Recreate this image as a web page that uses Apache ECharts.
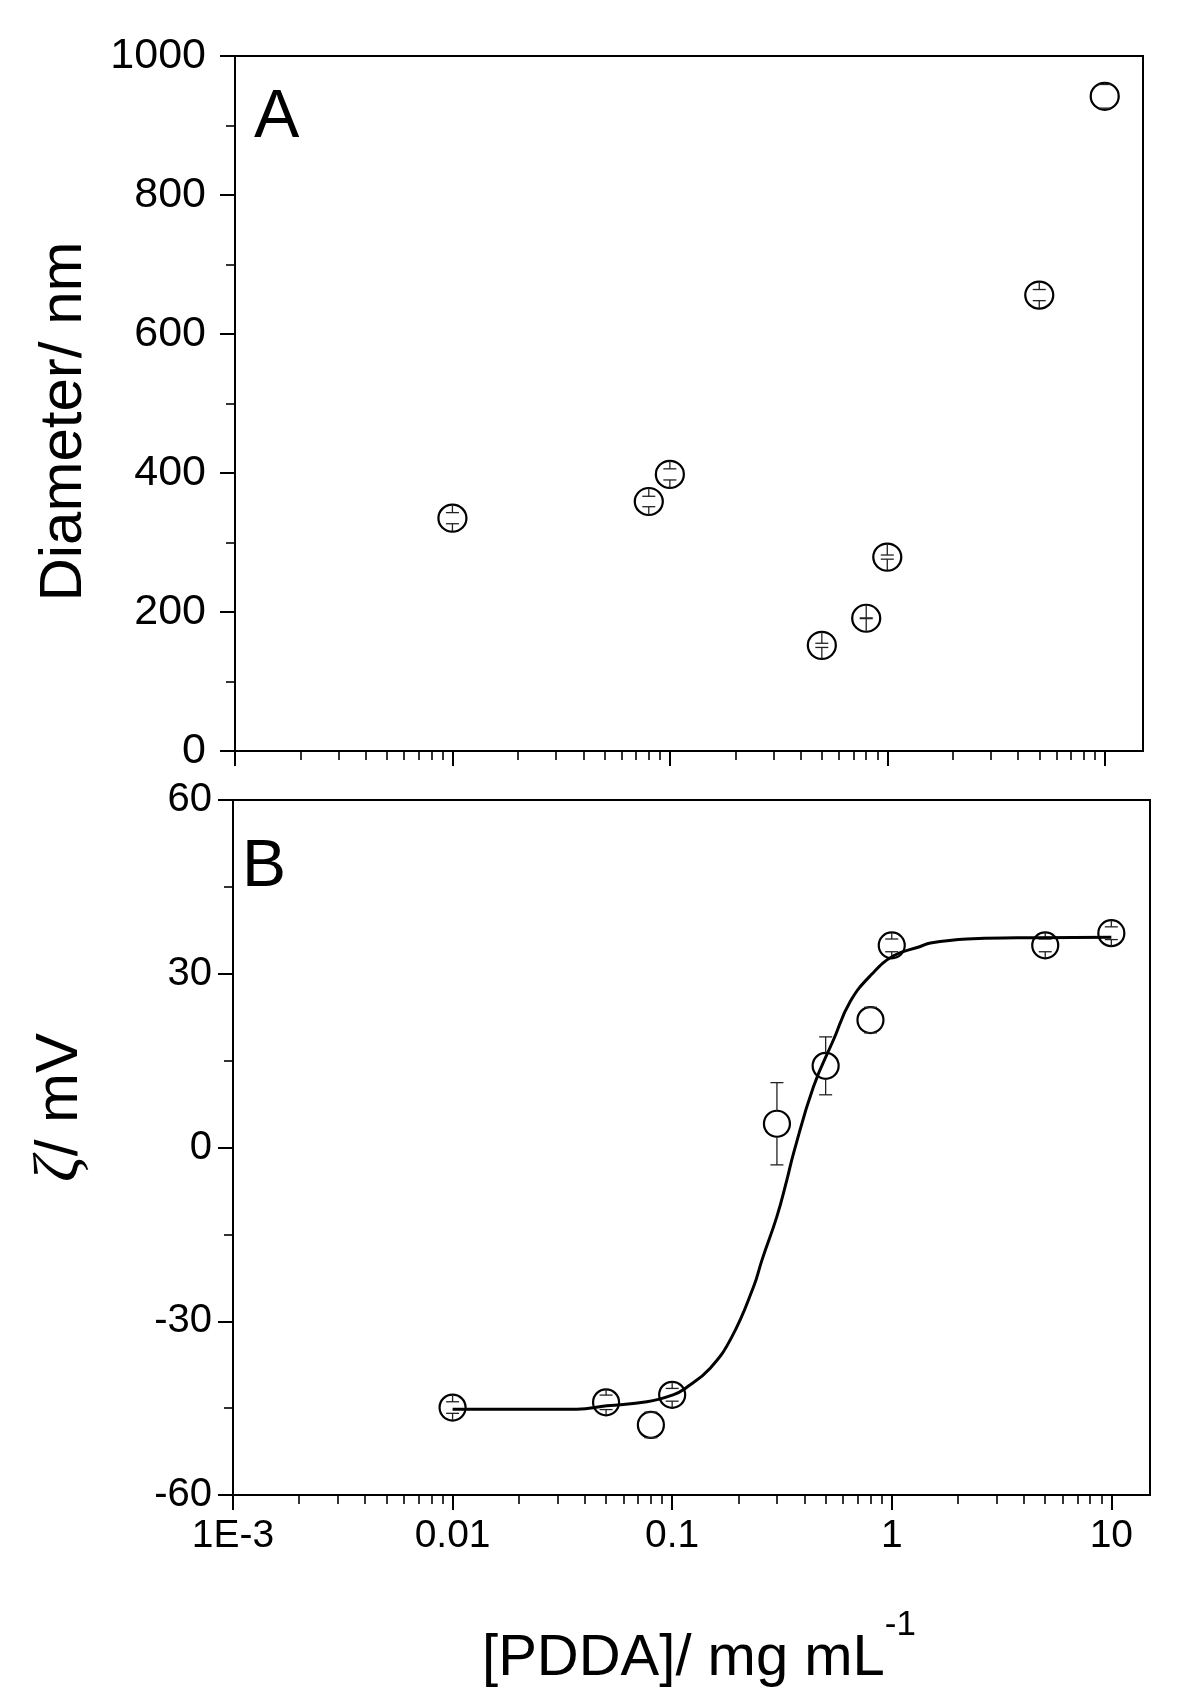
<!DOCTYPE html>
<html>
<head>
<meta charset="utf-8">
<script src="https://cdn.jsdelivr.net/npm/echarts@6/dist/echarts.min.js"></script>
<style>
  html, body { margin: 0; background: #fff; }
  #chart { width: 1200px; height: 1690px; }
</style>
</head>
<body>
<div id="chart"></div>
<script>
// panel A: particle diameter vs PDDA concentration
const sizeConc = [0.01, 0.08, 0.1, 0.5, 0.8, 1, 5, 10];
const sizeDiameter = [335, 359, 398, 152, 191, 279, 656, 942];
const sizeError = [8, 7.5, 8, 3, 0.5, 3, 8, 17];

// panel B: zeta potential vs PDDA concentration
const zetaConc = [0.01, 0.05, 0.08, 0.1, 0.3, 0.5, 0.8, 1, 5, 10];
const zetaValue = [-44.9, -44.0, -47.9, -42.7, 4.1, 14.1, 22.0, 34.9, 34.9, 37.0];
const zetaError = [1.0, 1.25, 2.2, 1.1, 7.1, 5.0, 2.2, 1.1, 1.1, 1.1];

// fitted sigmoid
const fitConc = [0.01, 0.0368, 0.0504, 0.0767, 0.101, 0.1146, 0.149, 0.187, 0.235, 0.2566, 0.3, 0.333, 0.357, 0.44, 0.543, 0.647, 0.81, 1.02, 1.35, 1.5, 2.2, 3.72, 10];
const fitZeta = [-45.2, -45.2, -44.6, -43.9, -42.7, -41.6, -38.1, -32.7, -24.0, -19.4, -11.9, -5.6, -1.0, 10.5, 18.6, 25.2, 29.9, 33.1, 34.7, 35.3, 36.0, 36.2, 36.3];

const xTickValues = [0.001, 0.01, 0.1, 1, 10];
const xTickLabels = ["1E-3", "0.01", "0.1", "1", "10"];

const FONT = '"Liberation Sans", Arial, sans-serif';
const BLACK = "#000";

function pairs(xs, ys, extra) {
  return xs.map((x, i) => (extra ? [x, ys[i], extra[i]] : [x, ys[i]]));
}

function formatConc(value) {
  const idx = xTickValues.findIndex((v) => Math.abs(Math.log10(v) - Math.log10(value)) < 1e-6);
  return idx >= 0 ? xTickLabels[idx] : "";
}

function concAxis(gridIndex, showLabels) {
  return {
    type: "log",
    logBase: 10,
    gridIndex,
    min: 0.001,
    max: 15,
    axisLine: { show: true, onZero: false, lineStyle: { color: BLACK, width: 2 } },
    axisTick: {
      show: true,
      inside: false,
      length: 15,
      customValues: xTickValues,
      lineStyle: { color: BLACK, width: 2 },
    },
    minorTick: { show: true, splitNumber: 9, length: 9, lineStyle: { color: BLACK, width: 1.6 } },
    axisLabel: {
      show: showLabels,
      margin: 22,
      fontSize: 39,
      color: BLACK,
      fontFamily: FONT,
      formatter: formatConc,
    },
    splitLine: { show: false },
    minorSplitLine: { show: false },
  };
}

function valueAxis(gridIndex, min, max, interval, margin, fontSize) {
  return {
    type: "value",
    gridIndex,
    min,
    max,
    interval,
    axisLine: { show: true, onZero: false, lineStyle: { color: BLACK, width: 2 } },
    axisTick: { show: true, inside: false, length: 15, lineStyle: { color: BLACK, width: 2 } },
    minorTick: { show: true, splitNumber: 2, length: 9, lineStyle: { color: BLACK, width: 1.6 } },
    axisLabel: { margin, fontSize, color: BLACK, fontFamily: FONT, formatter: (v) => String(v) },
    splitLine: { show: false },
    nameLocation: "middle",
  };
}

// Origin-style error bars: stem runs from the symbol edge to the cap
function errorBars(radius) {
  return function (params, api) {
    const x = api.value(0);
    const y = api.value(1);
    const err = api.value(2);
    const c = api.coord([x, y]);
    const hi = api.coord([x, y + err])[1];
    const lo = api.coord([x, y - err])[1];
    const half = 6.5;
    const style = { stroke: "#222", lineWidth: 1.3, fill: null };
    return {
      type: "group",
      children: [
        { type: "line", shape: { x1: c[0], y1: c[1] - radius, x2: c[0], y2: hi }, style },
        { type: "line", shape: { x1: c[0] - half, y1: hi, x2: c[0] + half, y2: hi }, style },
        { type: "line", shape: { x1: c[0], y1: c[1] + radius, x2: c[0], y2: lo }, style },
        { type: "line", shape: { x1: c[0] - half, y1: lo, x2: c[0] + half, y2: lo }, style },
      ],
    };
  };
}

const circleStyle = { color: "#fff", borderColor: BLACK, borderWidth: 2.2, opacity: 1 };

const yA = valueAxis(0, 0, 1000, 200, 29, 43);
yA.name = "Diameter/ nm";
yA.nameGap = 141;
yA.nameTextStyle = { fontSize: 60, color: BLACK, fontFamily: FONT, padding: [0, 36, 0, 0] };

const yB = valueAxis(1, -60, 60, 30, 21, 40);
yB.name = "{z|ζ}/ mV";
yB.nameGap = 141;
yB.nameTextStyle = {
  fontSize: 60,
  color: BLACK,
  fontFamily: FONT,
  padding: [0, 0, 0, 80],
  rich: { z: { fontSize: 64, fontStyle: "italic", fontFamily: '"Liberation Serif", serif', color: BLACK } },
};

const xA = concAxis(0, false);
const xB = concAxis(1, true);
xB.name = "[PDDA]/ mg mL{sup|-1}";
xB.nameLocation = "middle";
xB.nameGap = 113;
xB.nameTextStyle = {
  fontSize: 58,
  lineHeight: 102,
  color: BLACK,
  fontFamily: FONT,
  padding: [0, 0, 0, 15],
  rich: { sup: { fontSize: 35, verticalAlign: "top", fontFamily: FONT, color: BLACK } },
};

const chart = echarts.init(document.getElementById("chart"), null, { renderer: "canvas" });

chart.setOption({
  backgroundColor: "#fff",
  animation: false,
  textStyle: { fontFamily: FONT },
  grid: [
    { left: 235, top: 56, width: 908, height: 695, show: true, borderColor: BLACK, borderWidth: 2, outerBoundsMode: "none" },
    { left: 233, top: 800, width: 917, height: 695, show: true, borderColor: BLACK, borderWidth: 2, outerBoundsMode: "none" },
  ],
  xAxis: [xA, xB],
  yAxis: [yA, yB],
  graphic: [
    { type: "text", left: 254, top: 84, style: { text: "A", fontSize: 68, fontFamily: FONT, fill: BLACK } },
    { type: "text", left: 242, top: 835, style: { text: "B", fontSize: 66, fontFamily: FONT, fill: BLACK } },
  ],
  series: [
    {
      name: "diameter",
      type: "scatter",
      xAxisIndex: 0,
      yAxisIndex: 0,
      symbol: "circle",
      symbolSize: [28, 27],
      itemStyle: circleStyle,
      z: 2,
      data: pairs(sizeConc, sizeDiameter),
    },
    {
      name: "diameter error",
      type: "custom",
      xAxisIndex: 0,
      yAxisIndex: 0,
      z: 3,
      renderItem: errorBars(13.5),
      data: pairs(sizeConc, sizeDiameter, sizeError),
    },
    {
      name: "zeta",
      type: "scatter",
      xAxisIndex: 1,
      yAxisIndex: 1,
      symbol: "circle",
      symbolSize: 26,
      itemStyle: circleStyle,
      z: 2,
      data: pairs(zetaConc, zetaValue),
    },
    {
      name: "zeta error",
      type: "custom",
      xAxisIndex: 1,
      yAxisIndex: 1,
      z: 3,
      renderItem: errorBars(13),
      data: pairs(zetaConc, zetaValue, zetaError),
    },
    {
      name: "fit",
      type: "line",
      xAxisIndex: 1,
      yAxisIndex: 1,
      showSymbol: false,
      smooth: 0.45,
      z: 4,
      lineStyle: { color: BLACK, width: 3 },
      data: pairs(fitConc, fitZeta),
    },
  ],
});
</script>
</body>
</html>
